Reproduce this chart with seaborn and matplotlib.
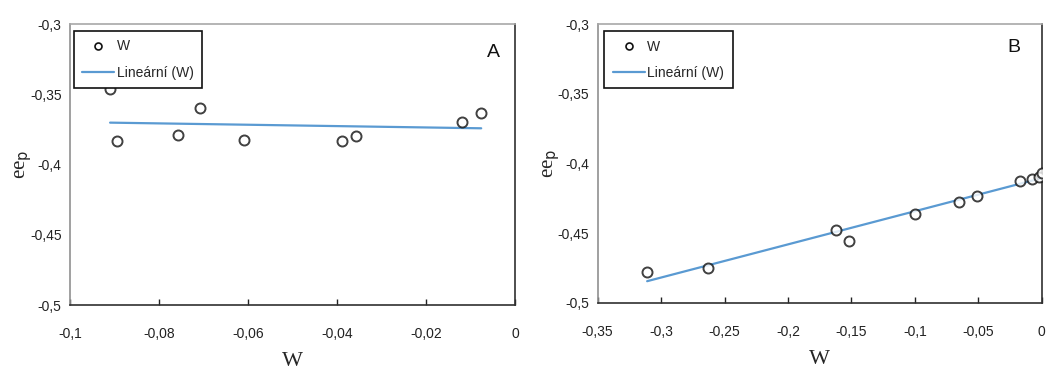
import matplotlib
matplotlib.use("Agg")
import matplotlib.pyplot as plt
from matplotlib.lines import Line2D
from matplotlib.ticker import FuncFormatter
import numpy as np
import pandas as pd
import seaborn as sns

# panel A
wA = [-0.0910, -0.0894, -0.0758, -0.0709, -0.0608, -0.0389, -0.0357, -0.0120, -0.0076]
epA = [-0.346, -0.3835, -0.379, -0.360, -0.3823, -0.3835, -0.380, -0.370, -0.3636]

# panel B
wB = [-0.311, -0.263, -0.162, -0.152, -0.100, -0.065, -0.051, -0.017, -0.008, -0.002, 0.0]
epB = [-0.478, -0.475, -0.448, -0.456, -0.436, -0.428, -0.4234, -0.4125, -0.4112, -0.4095, -0.4070]

xticksA = [-0.1, -0.08, -0.06, -0.04, -0.02, 0]
xticksB = [-0.35, -0.3, -0.25, -0.2, -0.15, -0.1, -0.05, 0]
yticks = [-0.5, -0.45, -0.4, -0.35, -0.3]

panel_names = ["A", "B"]
legend_labels = ["W", "Lineární (W)"]

sns.set_style("white")
plt.rcParams['font.family'] = ['Liberation Sans', 'DejaVu Sans']
line_col = "#5a9ad2"


def comma(v, pos):
    s = "{:g}".format(round(v, 3))
    return s.replace(".", ",")


fig = plt.figure(figsize=(10.5, 3.72), dpi=100)
axA = fig.add_axes([0.0667, 0.180, 0.4238, 0.7554])
axB = fig.add_axes([0.5692, 0.1863, 0.4229, 0.7484])

setups = [
    (axA, wA, epA, (-0.1, 0), xticksA, (0.009, 0.975), (0.951, 0.897)),
    (axB, wB, epB, (-0.35, 0), xticksB, (0.015, 0.975), (0.938, 0.918)),
]

for i, (ax, w, ep, xl, xt, legpos, txtpos) in enumerate(setups):
    df = pd.DataFrame({"W": w, "ep": ep})
    sns.regplot(data=df, x="W", y="ep", ax=ax, ci=None,
                scatter_kws=dict(s=52, facecolor="white", edgecolor="#111111",
                                 linewidths=1.4, zorder=3),
                line_kws=dict(color=line_col, lw=1.6, zorder=2))
    ax.set_xlim(*xl)
    ax.set_ylim(-0.5, -0.3)
    ax.set_xticks(xt)
    ax.set_yticks(yticks)
    ax.xaxis.set_major_formatter(FuncFormatter(comma))
    ax.yaxis.set_major_formatter(FuncFormatter(comma))
    ax.tick_params(axis="x", direction="in", length=4, width=1, pad=16,
                   labelsize=10, colors="#222222", bottom=True)
    ax.tick_params(axis="y", length=0, pad=6, labelsize=10, colors="#222222")
    ax.set_xlabel("W", family=["Liberation Serif"], fontsize=16, labelpad=8)
    ax.set_ylabel("ee$_\\mathrm{p}$", family=["Liberation Serif"], fontsize=15,
                  labelpad=-3)
    ax.spines["top"].set_color("#a8a8a8")
    ax.spines["left"].set_color("#909090")
    ax.spines["bottom"].set_color("#303030")
    ax.spines["right"].set_color("#303030")
    for sp in ax.spines.values():
        sp.set_linewidth(1.2)

    handles = [
        Line2D([], [], ls="none", marker="o", markersize=5, markerfacecolor="white",
               markeredgecolor="#111111", markeredgewidth=1.2),
        Line2D([], [], color=line_col, lw=1.6),
    ]
    leg = ax.legend(handles, legend_labels, loc="upper left", bbox_to_anchor=legpos,
                    borderaxespad=0, fancybox=False, framealpha=1,
                    edgecolor="#111111", fontsize=10, handlelength=2.3,
                    handletextpad=0.2, labelspacing=0.9, borderpad=0.6)
    leg.get_frame().set_linewidth(1.2)
    ax.text(txtpos[0], txtpos[1], panel_names[i], transform=ax.transAxes,
            ha="center", va="center", fontsize=14, color="#111111")

fig.savefig("out.png", dpi=100)
